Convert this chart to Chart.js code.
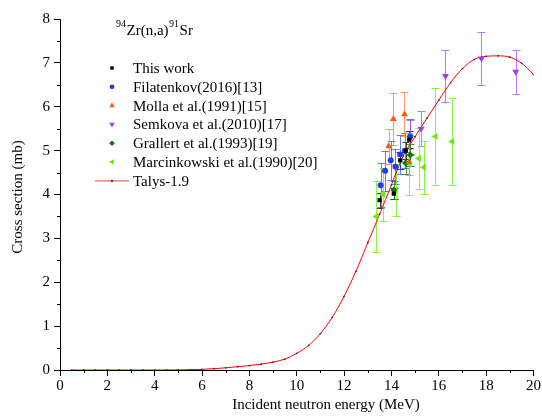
<!DOCTYPE html>
<html>
<head>
<meta charset="utf-8">
<script src="https://cdn.jsdelivr.net/npm/chart.js@4.4.0/dist/chart.umd.min.js"></script>
<style>
  html, body { margin: 0; padding: 0; background: #fff; }
  #wrap { width: 542px; height: 417px; }
</style>
</head>
<body>
<div id="wrap"><canvas id="xsChart" width="542" height="417"></canvas></div>
<script>
// 94Zr(n,a)91Sr cross section: measurements vs. Talys-1.9
const thisWorkE   = [13.5, 14.1, 14.37, 14.6, 14.75];
const thisWorkCs  = [3.87, 4.02, 4.78, 5.0, 5.25];
const thisWorkErr = [0.17, 0.12, 0.2, 0.2, 0.2];

const filatE   = [13.54, 13.73, 13.97, 14.17, 14.37, 14.57, 14.79];
const filatCs  = [4.21, 4.54, 4.78, 4.63, 4.91, 5.0, 5.32];
const filatErr = [0.5, 0.45, 0.45, 0.4, 0.45, 0.4, 0.4];

const mollaE   = [13.88, 14.08, 14.55, 14.74];
const mollaCs  = [5.1, 5.72, 5.83, 4.74];
const mollaErr = [0.4, 0.6, 0.5, 0.3];

const semkE   = [14.8, 15.25, 16.28, 17.8, 19.25];
const semkCs  = [5.3, 5.5, 6.7, 7.1, 6.8];
const semkErr = [0.4, 0.4, 0.6, 0.6, 0.5];

const grallE   = [14.1, 14.6, 14.8];
const grallCs  = [4.1, 4.72, 4.9];
const grallErr = [0.2, 0.25, 0.25];

const marcE   = [13.36, 13.64, 14.18, 14.76, 15.16, 15.37, 15.86, 16.56];
const marcCs  = [3.5, 4.0, 4.1, 4.7, 4.82, 4.62, 5.32, 5.21];
const marcErr = [0.8, 0.6, 0.6, 0.7, 0.7, 0.6, 1.1, 1.0];

// Talys-1.9 calculation
const talysE = [0.5, 1, 1.5, 2, 2.5, 3, 3.5, 4, 4.5, 5, 5.5, 6, 6.5, 7, 7.5, 8, 8.5, 9, 9.5, 10,
  10.5, 11, 11.5, 12, 12.5, 13, 13.5, 14, 14.5, 15, 15.5, 16, 16.5, 17, 17.5, 18, 18.5, 19, 19.5, 20];
const talysCs = [0, 0, 0, 0, 0, 0, 0, 0, 0.001, 0.003, 0.007, 0.015, 0.03, 0.05, 0.075, 0.1, 0.135, 0.18, 0.25, 0.38,
  0.56, 0.83, 1.2, 1.68, 2.25, 2.9, 3.55, 4.22, 4.88, 5.32, 5.74, 6.15, 6.55, 6.87, 7.08, 7.15, 7.16, 7.13, 6.99, 6.74];

const xTicks = [0, 2, 4, 6, 8, 10, 12, 14, 16, 18, 20];
const yTicks = [0, 1, 2, 3, 4, 5, 6, 7, 8];

const xTitle = 'Incident neutron energy (MeV)';
const yTitle = 'Cross section (mb)';

const FONT = "'Liberation Serif', 'Times New Roman', serif";

function pts(xs, ys, es) {
  return xs.map((x, i) => ({ x: x, y: ys[i], err: es ? es[i] : 0 }));
}

function markerSet(label, xs, ys, es, color, barColor, style, rotation, radius) {
  return {
    type: 'scatter',
    label: label,
    data: pts(xs, ys, es),
    backgroundColor: color,
    borderColor: color,
    borderWidth: 0,
    pointStyle: style,
    rotation: rotation,
    pointRadius: radius,
    barColor: barColor
  };
}

const datasets = [
  markerSet('This work', thisWorkE, thisWorkCs, thisWorkErr, '#000000', 'rgba(0,0,0,0.75)', 'rect', 0, 3),
  markerSet('Filatenkov(2016)[13]', filatE, filatCs, filatErr, '#1f3cf0', 'rgba(40,70,240,0.7)', 'circle', 0, 3),
  markerSet('Molla et al.(1991)[15]', mollaE, mollaCs, mollaErr, '#ff5a10', 'rgba(255,110,50,0.7)', 'triangle', 0, 4),
  markerSet('Semkova et al.(2010)[17]', semkE, semkCs, semkErr, '#9b3cf5', 'rgba(160,80,245,0.75)', 'triangle', 180, 4),
  markerSet('Grallert et al.(1993)[19]', grallE, grallCs, grallErr, '#0a7a0a', 'rgba(10,120,10,0.75)', 'rectRot', 0, 3.5),
  markerSet('Marcinkowski et al.(1990)[20]', marcE, marcCs, marcErr, '#66f000', 'rgba(110,240,20,0.8)', 'triangle', 270, 4),
  {
    type: 'line',
    label: 'Talys-1.9',
    data: pts(talysE, talysCs),
    borderColor: '#ff0000',
    borderWidth: 1,
    backgroundColor: '#333333',
    pointRadius: 0.9,
    pointBorderWidth: 0,
    pointStyle: 'circle',
    tension: 0.4,
    cubicInterpolationMode: 'monotone',
    fill: false
  }
];

// vertical error bars with caps, drawn under the markers
const errorBars = {
  id: 'errorBars',
  beforeDatasetsDraw(chart) {
    const ctx = chart.ctx;
    const xs = chart.scales.x, ys = chart.scales.y;
    ctx.save();
    ctx.lineWidth = 1;
    chart.data.datasets.forEach(ds => {
      if (!ds.barColor) return;
      ctx.strokeStyle = ds.barColor;
      ds.data.forEach(p => {
        const px = Math.round(xs.getPixelForValue(p.x)) + 0.5;
        const top = Math.round(ys.getPixelForValue(p.y + p.err)) + 0.5;
        const bot = Math.round(ys.getPixelForValue(p.y - p.err)) + 0.5;
        ctx.beginPath();
        ctx.moveTo(px, top); ctx.lineTo(px, bot);
        ctx.moveTo(px - 4, top); ctx.lineTo(px + 4, top);
        ctx.moveTo(px - 4, bot); ctx.lineTo(px + 4, bot);
        ctx.stroke();
      });
    });
    ctx.restore();
  }
};

// minor ticks, axis titles, reaction label and legend block
const decorations = {
  id: 'decorations',
  afterDraw(chart) {
    const ctx = chart.ctx;
    const xs = chart.scales.x, ys = chart.scales.y;
    const area = chart.chartArea;
    ctx.save();
    ctx.strokeStyle = '#000';
    ctx.lineWidth = 1;
    ctx.beginPath();
    for (let v = 1; v < 20; v += 2) {
      const px = Math.round(xs.getPixelForValue(v)) + 0.5;
      ctx.moveTo(px, area.bottom); ctx.lineTo(px, area.bottom + 3);
    }
    for (let v = 0.5; v < 8; v += 1) {
      const py = Math.round(ys.getPixelForValue(v)) + 0.5;
      ctx.moveTo(area.left, py); ctx.lineTo(area.left - 3, py);
    }
    ctx.stroke();

    // axis titles
    ctx.fillStyle = '#000';
    ctx.font = '15px ' + FONT;
    ctx.textAlign = 'center';
    ctx.textBaseline = 'middle';
    ctx.fillText(xTitle, 326, 405);
    ctx.save();
    ctx.translate(18, 197);
    ctx.rotate(-Math.PI / 2);
    ctx.fillText(yTitle, 0, 0);
    ctx.restore();

    // reaction label
    ctx.textBaseline = 'alphabetic';
    ctx.textAlign = 'left';
    let x = 116;
    const base = 35;
    const parts = [['94', true], ['Zr(n,a)', false], ['91', true], ['Sr', false]];
    parts.forEach(([t, sup]) => {
      ctx.font = (sup ? '10px ' : '15px ') + FONT;
      ctx.fillText(t, x, sup ? base - 8 : base);
      x += ctx.measureText(t).width + 0.5;
    });

    // legend
    ctx.font = '15px ' + FONT;
    ctx.textBaseline = 'middle';
    const rowY = 68, step = 18.8, mx = 112, tx = 133;
    chart.data.datasets.forEach((ds, i) => {
      const y = rowY + i * step;
      if (ds.type === 'line') {
        ctx.strokeStyle = '#ff6060';
        ctx.lineWidth = 1.2;
        ctx.beginPath();
        ctx.moveTo(95, y); ctx.lineTo(129, y);
        ctx.stroke();
        ctx.fillStyle = '#333';
        ctx.fillRect(mx - 1, y - 1, 2, 2);
      } else {
        ctx.fillStyle = ds.backgroundColor;
        ctx.strokeStyle = ds.backgroundColor;
        Chart.helpers.drawPoint(ctx, {
          pointStyle: ds.pointStyle, rotation: ds.rotation,
          radius: ds.pointRadius * 0.8, borderWidth: 0
        }, mx, y);
      }
      ctx.fillStyle = '#000';
      ctx.fillText(ds.label, tx, y + 1);
    });
    ctx.restore();
  }
};

new Chart(document.getElementById('xsChart'), {
  data: { datasets: datasets },
  options: {
    responsive: false,
    animation: false,
    layout: { padding: { top: 19, right: 7, left: 0, bottom: 0 } },
    plugins: {
      legend: { display: false },
      tooltip: { enabled: false }
    },
    scales: {
      x: {
        type: 'linear',
        min: 0, max: 20,
        afterBuildTicks: s => { s.ticks = xTicks.map(v => ({ value: v })); },
        afterFit: s => { s.height = 47; },
        border: { display: true, color: '#000', width: 1 },
        grid: { drawOnChartArea: false, drawTicks: true, tickLength: 6, color: '#000' },
        ticks: { color: '#000', font: { family: FONT, size: 15 }, padding: 1, maxRotation: 0 },
        title: { display: false }
      },
      y: {
        type: 'linear',
        min: 0, max: 8,
        afterBuildTicks: s => { s.ticks = yTicks.map(v => ({ value: v })); },
        afterFit: s => { s.width = 60; },
        border: { display: true, color: '#000', width: 1 },
        grid: { drawOnChartArea: false, drawTicks: true, tickLength: 6, color: '#000' },
        ticks: { color: '#000', font: { family: FONT, size: 15 }, padding: 4 },
        title: { display: false }
      }
    }
  },
  plugins: [errorBars, decorations]
});
</script>
</body>
</html>
